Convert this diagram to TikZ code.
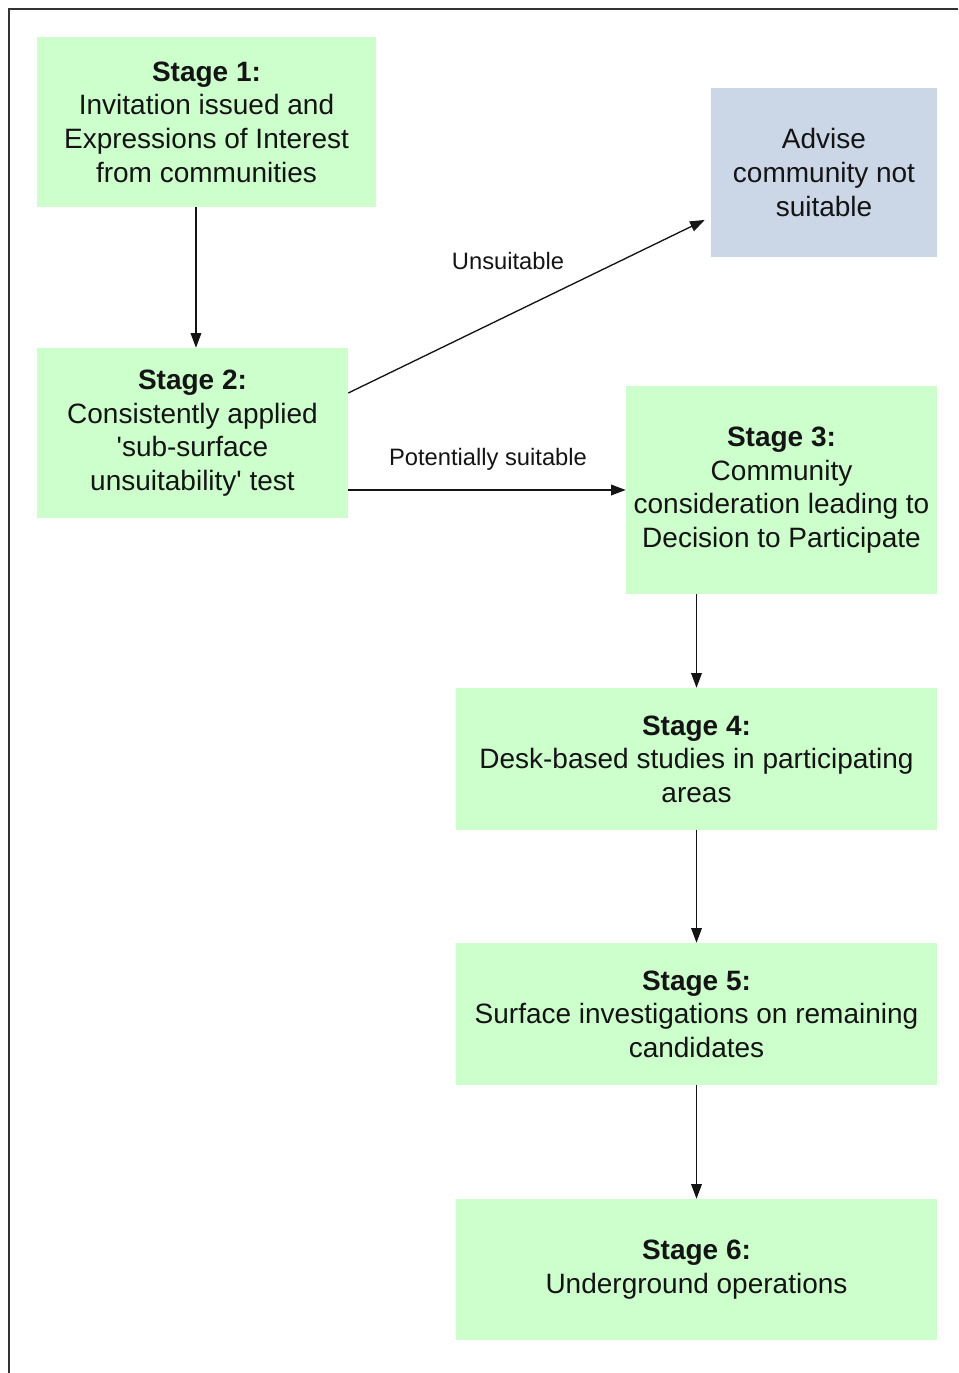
\documentclass[tikz,border=0pt]{standalone}
\usepackage{fontspec}
\setmainfont{Liberation Sans}[Ligatures=TeXOff]
\usetikzlibrary{arrows.meta}
\definecolor{stagegreen}{RGB}{204,255,204}
\definecolor{advisegray}{RGB}{203,214,230}
\definecolor{inkcol}{RGB}{20,20,20}
\begin{document}
\begin{tikzpicture}[x=0.75pt,y=-0.75pt,
  box/.style={rectangle, fill=stagegreen, draw=none, inner sep=0pt, align=center,
    text=inkcol, font=\fontsize{21}{25.2}\selectfont},
  greybox/.style={box, fill=advisegray},
  arr/.style={draw=inkcol, line width=1pt, -{Triangle[length=11pt,width=8pt]}},
  lbl/.style={text=inkcol, font=\fontsize{17.8}{21}\selectfont, inner sep=0pt}]
  \useasboundingbox (0,0) rectangle (958,1373);
  % outer frame: top and left rules only
  \coordinate (fl) at (9,1373);
  \coordinate (fc) at (9,9);
  \coordinate (fr) at (958,9);
  \draw[line width=1.4pt, draw=black!80] (fl) -- (fc) -- (fr);

  % stage boxes
  \node[box, minimum width=254.25pt, minimum height=127.5pt] (s1) at (206.5,122)
    {\textbf{Stage 1:}\\Invitation issued and\\Expressions of Interest\\from communities};
  \node[greybox, minimum width=169.5pt, minimum height=126.75pt] (adv) at (824,172.5)
    {Advise\\community not\\suitable};
  \node[box, minimum width=233.25pt, minimum height=127.5pt] (s2) at (192.5,433)
    {\textbf{Stage 2:}\\Consistently applied\\'sub-surface\\unsuitability' test};
  \node[box, minimum width=233.25pt, minimum height=156pt] (s3) at (781.5,490)
    {\textbf{Stage 3:}\\Community\\consideration leading to\\Decision to Participate};
  \node[box, minimum width=360.75pt, minimum height=106.5pt] (s4) at (696.5,759)
    {\textbf{Stage 4:}\\Desk-based studies in participating\\areas};
  \node[box, minimum width=360.75pt, minimum height=106.5pt] (s5) at (696.5,1014)
    {\textbf{Stage 5:}\\Surface investigations on remaining\\candidates};
  \node[box, minimum width=360.75pt, minimum height=105.75pt] (s6) at (696.5,1269.5)
    {\textbf{Stage 6:}\\Underground operations};

  % connectors
  \draw[arr] ([xshift=-7.9pt]s1.south) coordinate (a12) -- (a12 |- s2.north);
  \draw[arr] ([yshift=30pt]s2.east) -- ([xshift=-4.5pt,yshift=-35.6pt]adv.west);
  \draw[arr] (s2.east |- s3.west) -- (s3.west);
  \draw[arr] (s3.south -| s4.north) -- (s4.north);
  \draw[arr] (s4.south) -- (s5.north);
  \draw[arr] (s5.south) -- (s6.north);

  % connector labels
  \node[lbl] (lunsuit) at (508,261) {Unsuitable};
  \node[lbl] (lpot) at (488,459) {Potentially suitable};
\end{tikzpicture}
\end{document}
